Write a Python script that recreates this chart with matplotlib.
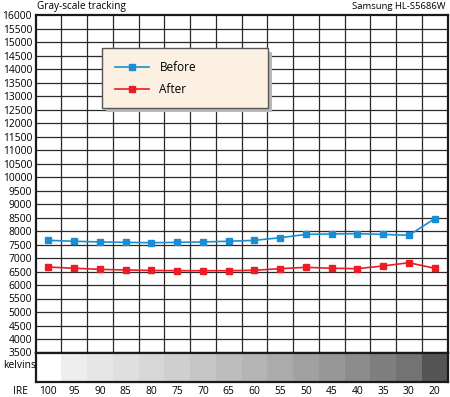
import matplotlib
matplotlib.use("Agg")
import matplotlib.pyplot as plt
from matplotlib.patches import Rectangle
from matplotlib.transforms import IdentityTransform
import numpy as np

plt.rcParams['font.family'] = ['Open Sans', 'DejaVu Sans']

ire = ["100", "95", "90", "85", "80", "75", "70", "65", "60", "55", "50", "45", "40", "35", "30", "20"]
before = [7655, 7620, 7595, 7580, 7565, 7580, 7595, 7620, 7655, 7750, 7875, 7890, 7900, 7875, 7840, 8455]
after = [6665, 6620, 6580, 6555, 6540, 6530, 6530, 6530, 6545, 6605, 6655, 6620, 6605, 6705, 6825, 6620]
strip_grays = ["#ffffff", "#eeeeee", "#e6e6e6", "#dfdfdf", "#d7d7d7", "#cfcfcf", "#c6c6c6", "#bdbdbd",
               "#b5b5b5", "#ababab", "#a1a1a1", "#979797", "#8c8c8c", "#7f7f7f", "#737373", "#555555"]
yticks = list(range(3500, 16001, 500))

W, H = 450, 397
fig = plt.figure(figsize=(W / 100, H / 100), dpi=100)
fig.patch.set_facecolor("white")

L, R, T, B, S = 35.5, 447.5, 15, 352.5, 381.5
ax = fig.add_axes([L / W, (H - B) / H, (R - L) / W, (B - T) / H])
axs = fig.add_axes([L / W, (H - S) / H, (R - L) / W, (S - B) / H])

n = len(ire)
xpos = np.arange(n) + 0.5
ax.set_xlim(0, n)
ax.set_ylim(3500, 16000)
for v in range(1, n):
    ax.axvline(v, color="#2a2a2a", lw=0.9, zorder=1)
for v in yticks[1:-1]:
    ax.axhline(v, color="#2a2a2a", lw=0.9, zorder=1)
ax.set_xticks([])
ax.set_yticks(yticks)
ax.set_yticklabels([str(v) for v in yticks], fontsize=7.4)
ax.tick_params(axis="y", length=0, pad=2.5)
for s in ax.spines.values():
    s.set_linewidth(1.6)
    s.set_color("#1a1a1a")

ax.plot(xpos, before, color="#1b8ed3", lw=1.2, marker="s", ms=4.2, label="Before", zorder=3)
ax.plot(xpos, after, color="#ec1c24", lw=1.2, marker="s", ms=4.2, label="After", zorder=3)

leg = ax.legend(loc="upper left", bbox_to_anchor=((102 - L) / (R - L), 1 - (48 - T) / (B - T), 166 / (R - L), 0.0),
                mode="expand", borderaxespad=0, fontsize=8.5, frameon=True, fancybox=False,
                facecolor="#fcf0e2", edgecolor="#555555", framealpha=1, borderpad=1.07,
                labelspacing=0.78, handlelength=2.9, handletextpad=0.9)
leg.get_frame().set_linewidth(1.0)
leg.set_zorder(5)
fig.canvas.draw()
bb = leg.get_window_extent()
shadow = Rectangle((bb.x0 + 4, bb.y0 - 4), bb.width, bb.height, transform=IdentityTransform(),
                   facecolor="#b8b8b8", edgecolor="none", zorder=4.5, clip_on=False)
ax.add_artist(shadow)

# gray strip
axs.set_xlim(0, n)
axs.set_ylim(0, 1)
axs.bar(np.arange(n) + 0.5, [1] * n, width=1.0, color=strip_grays, edgecolor="none")
axs.set_yticks([])
axs.set_xticks(xpos)
axs.set_xticklabels(ire, fontsize=7.4)
axs.tick_params(axis="x", length=0, pad=3)
for s in axs.spines.values():
    s.set_linewidth(1.6)
    s.set_color("#1a1a1a")
fig.text(36 / W, 1 - 366 / H, "kelvins", ha="right", va="center", fontsize=7.4)
fig.text(21 / W, 1 - 391 / H, "IRE", ha="center", va="center", fontsize=7.4)

fig.text(37 / W, 1 - 6.5 / H, "Gray-scale tracking", ha="left", va="center", fontsize=7.2)
fig.text(446 / W, 1 - 6.5 / H, "Samsung HL-S5686W", ha="right", va="center", fontsize=6.8)

fig.savefig("out.png", dpi=100)
